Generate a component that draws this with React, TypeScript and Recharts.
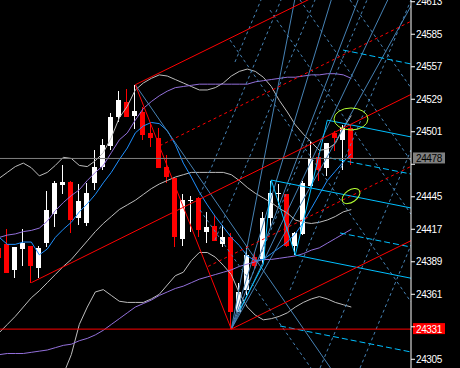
import {
  ComposedChart,
  Bar,
  Line,
  XAxis,
  YAxis,
  ReferenceLine,
  ReferenceDot,
} from 'recharts'

// candles (one per bar, oldest first)
const opens = [24401, 24404, 24382, 24400, 24403, 24384, 24405, 24430, 24455, 24458, 24427, 24422, 24457, 24471, 24489, 24514, 24527, 24515, 24518, 24500, 24496, 24471, 24461, 24409, 24441, 24444, 24415, 24420, 24404, 24410, 24346, 24365, 24393, 24391, 24427, 24447, 24447, 24403, 24413, 24454, 24479, 24470, 24500, 24494, 24504]
const highs = [24404, 24417, 24402, 24417, 24403, 24403, 24450, 24459, 24472, 24459, 24456, 24457, 24485, 24495, 24517, 24536, 24538, 24541, 24522, 24509, 24504, 24481, 24461, 24447, 24446, 24445, 24432, 24429, 24421, 24414, 24371, 24403, 24397, 24432, 24459, 24456, 24447, 24415, 24459, 24492, 24483, 24491, 24502, 24507, 24507]
const lows = [24389, 24379, 24375, 24385, 24371, 24375, 24402, 24419, 24447, 24414, 24421, 24420, 24451, 24468, 24485, 24509, 24514, 24503, 24494, 24488, 24470, 24457, 24402, 24403, 24415, 24410, 24405, 24407, 24402, 24331, 24346, 24360, 24384, 24387, 24419, 24438, 24402, 24395, 24412, 24453, 24459, 24463, 24484, 24468, 24472]
const closes = [24392, 24379, 24402, 24405, 24385, 24401, 24434, 24457, 24458, 24425, 24441, 24448, 24471, 24490, 24514, 24528, 24514, 24519, 24498, 24496, 24470, 24462, 24410, 24442, 24442, 24416, 24419, 24407, 24410, 24346, 24363, 24395, 24385, 24427, 24448, 24448, 24403, 24414, 24457, 24478, 24468, 24491, 24496, 24504, 24478]

// indicator lines
const maFast = [24410, 24404, 24404, 24406, 24406, 24395, 24400, 24410, 24417, 24423, 24432, 24439, 24447, 24457, 24466, 24477, 24487, 24500, 24506, 24509, 24508, 24502, 24490, 24474, 24462, 24449, 24438, 24428, 24419, 24410, 24403, 24394, 24390, 24391, 24396, 24401, 24406, 24413, 24423, 24435, 24447, 24459, 24467, 24475, 24482]
const envUpper = [24410, 24412, 24413, 24415, 24416, 24418, 24424, 24433, 24440, 24446, 24451, 24459, 24466, 24472, 24483, 24494, 24500, 24511, 24521, 24527, 24532, 24536, 24539, 24540, 24541, 24542, 24542, 24542, 24542, 24542, 24542, 24542, 24544, 24545, 24546, 24547, 24548, 24548, 24549, 24550, 24550, 24551, 24551, 24550, 24547]
const envLower = [24309, 24310, 24310, 24310, 24311, 24312, 24313, 24315, 24317, 24318, 24321, 24323, 24326, 24330, 24335, 24340, 24345, 24350, 24353, 24356, 24360, 24363, 24366, 24368, 24371, 24374, 24376, 24378, 24380, 24382, 24385, 24387, 24389, 24391, 24391, 24392, 24393, 24394, 24396, 24399, 24401, 24405, 24409, 24413, 24417]
const bandUpper = [24461, 24466, 24471, 24474, 24470, 24463, 24466, 24472, 24479, 24478, 24472, 24471, 24476, 24483, 24496, 24513, 24523, 24537, 24543, 24547, 24550, 24549, 24546, 24543, 24540, 24537, 24537, 24539, 24543, 24549, 24553, 24555, 24553, 24548, 24540, 24528, 24518, 24507, 24499, 24492, 24485, 24486, 24491, 24504, 24515]
const bandMid = [24328, 24335, 24342, 24350, 24358, 24364, 24371, 24378, 24385, 24391, 24399, 24407, 24415, 24422, 24428, 24434, 24438, 24442, 24447, 24452, 24456, 24459, 24462, 24464, 24466, 24466, 24466, 24466, 24466, 24464, 24459, 24453, 24448, 24444, 24440, 24435, 24431, 24425, 24423, 24422, 24423, 24425, 24428, 24432, 24434]
const bandLower = [null, null, null, null, null, null, null, null, 24292, 24309, 24335, 24350, 24363, 24365, 24360, 24355, 24354, 24354, 24354, 24357, 24361, 24369, 24377, 24380, 24390, 24397, 24397, 24393, 24386, 24378, 24362, 24350, 24343, 24339, 24340, 24342, 24345, 24350, 24354, 24357, 24359, 24357, 24354, 24352, 24350]

const yTicks = [24305, 24333, 24361, 24389, 24417, 24445, 24473, 24501, 24529, 24557, 24585, 24613]
// tick labels that sit under the price tags
const coveredTicks = [24333, 24473]
const bidPrice = 24478
const lowLevel = 24331

// drawn objects: [barFrom, priceFrom, barTo, priceTo]
const pitchforkSolid = [
  [4, 24371, 52, 24535],
  [17, 24541.5, 52, 24660],
  [29, 24331, 52, 24409],
  [17, 24541.5, 29, 24331],
]
const pitchforkDashed = [
  [20.06, 24489, 52, 24598],
  [26.1, 24385, 52, 24473],
]
const fanSolid = [
  [17, 24541.5, 45, 24261.5],
  [29, 24331, 38, 24653],
  [29, 24331, 42, 24626],
  [29, 24331, 46, 24635],
  [29, 24331, 52, 24664.5],
  [29, 24331, 52, 24616],
]
const gridDashed = [
  [29.46, 24561.1, 32.71, 24614.5],
  [25.09, 24446.5, 35.21, 24614.5],
  [26.96, 24407.8, 39.46, 24614.5],
  [31.34, 24373.3, 45.96, 24614.5],
  [36.34, 24364.7, 51.46, 24614.5],
  [40.09, 24297.5, 51.46, 24485.3],
  [45.09, 24297.5, 51.46, 24403.4],
  [28.84, 24580.0, 51.46, 24354.4],
  [33.84, 24605.8, 51.46, 24430.1],
  [25.09, 24433.6, 38.96, 24297.5],
  [37.59, 24614.5, 51.46, 24475.8],
  [43.84, 24614.5, 51.46, 24538.7],
]
const zigzag = [
  [30, 24347, 33, 24387],
  [33, 24387, 34, 24459.4],
  [34, 24459.4, 37, 24394.8],
  [37, 24394.8, 41, 24511],
]
const channelSolid = [
  [34, 24459.4, 52, 24434.6],
  [37, 24394.8, 52, 24374.1],
  [41, 24511, 52, 24495.8],
]
const channelDashed = [
  [41.34, 24478.4, 51.46, 24464.6],
  [42.59, 24413.8, 51.46, 24401.7],
  [35.09, 24333.7, 51.46, 24311.3],
  [42.96, 24571.4, 51.46, 24559.4],
]
const marks = [
  [43.96, 24512, 17, 11, 0],
  [43.96, 24445.6, 10, 6, -35],
]

const rows = opens.map((o, i) => ({
  i,
  open: o,
  high: highs[i],
  low: lows[i],
  close: closes[i],
  maFast: maFast[i],
  envUpper: envUpper[i],
  envLower: envLower[i],
  bandUpper: bandUpper[i],
  bandMid: bandMid[i],
  bandLower: bandLower[i],
}))

function Candle(props: any) {
  const { x, y, width, height, payload } = props
  const { open, close, high, low } = payload
  const k = high - low ? height / (high - low) : 0
  const py = (v: number) => y + (high - v) * k
  const c = Math.round(x + width / 2 - 0.5)
  const color = close >= open ? '#ffffff' : '#ff0000'
  const top = py(Math.max(open, close))
  const bot = py(Math.min(open, close))
  return (
    <g shapeRendering="crispEdges">
      <line x1={c + 0.5} x2={c + 0.5} y1={y} y2={y + height} stroke={color} />
      <rect x={c - 2} y={top} width={5} height={Math.max(1, bot - top)} fill={color} />
    </g>
  )
}

function AxisTick({ x, y, payload }: any) {
  if (coveredTicks.includes(payload.value)) return null
  return (
    <text x={x} y={y} dy="0.355em" fill="#fff" fontSize={10} fontFamily="Liberation Sans" letterSpacing={-0.4}>
      {payload.value}
    </text>
  )
}

function PriceTag({ viewBox, bg, fg, text }: any) {
  const { x, y, width } = viewBox
  const left = x + width + 2
  return (
    <g>
      <rect x={left} y={y - 6} width={32} height={11} fill={bg} />
      <text x={left + 3} y={y + 4} fill={fg} fontSize={10} fontFamily="Liberation Sans" letterSpacing={-0.4}>
        {text}
      </text>
    </g>
  )
}

const segs = (list: number[][], stroke: string, dash?: string, key = '') =>
  list.map((s, n) => (
    <ReferenceLine
      key={key + n}
      segment={[{ x: s[0], y: s[1] }, { x: s[2], y: s[3] }]}
      stroke={stroke}
      strokeDasharray={dash}
      ifOverflow="hidden"
    />
  ))

export default function App() {
  return (
    <div style={{ width: 460, height: 368, background: '#000' }}>
      <style>{'body{margin:0;background:#000}'}</style>
      <ComposedChart width={460} height={368} data={rows} margin={{ top: 0, right: 0, bottom: 0, left: 0 }}>
        <XAxis type="number" dataKey="i" domain={[0.0875, 51.4625]} allowDataOverflow hide />
        <YAxis
          orientation="right"
          width={49}
          domain={[24297.5, 24614.5]}
          allowDataOverflow
          ticks={yTicks}
          interval={0}
          axisLine={{ stroke: '#fff' }}
          tickLine={{ stroke: '#fff' }}
          tickSize={4}
          tickMargin={1}
          tick={<AxisTick />}
        />
        <Bar dataKey={(d: any) => [d.low, d.high]} barSize={5} shape={Candle} isAnimationActive={false} />
        <Line dataKey="bandUpper" stroke="#bdbdbd" dot={false} activeDot={false} isAnimationActive={false} />
        <Line dataKey="bandMid" stroke="#bdbdbd" dot={false} activeDot={false} isAnimationActive={false} />
        <Line dataKey="bandLower" stroke="#bdbdbd" dot={false} activeDot={false} isAnimationActive={false} />
        <Line dataKey="envUpper" stroke="#9370db" dot={false} activeDot={false} isAnimationActive={false} />
        <Line dataKey="envLower" stroke="#9370db" dot={false} activeDot={false} isAnimationActive={false} />
        <Line dataKey="maFast" stroke="#1e90ff" dot={false} activeDot={false} isAnimationActive={false} />
        {segs(gridDashed, '#4682b4', '3 3', 'g')}
        {segs(fanSolid, '#4682b4', undefined, 'f')}
        {segs(channelDashed, '#00bfff', '6 3', 'cd')}
        {segs(channelSolid, '#00bfff', undefined, 'cs')}
        {segs(zigzag, '#00bfff', undefined, 'z')}
        {segs(pitchforkDashed, '#ff0000', '3 3', 'pd')}
        {segs(pitchforkSolid, '#ff0000', undefined, 'ps')}
        <ReferenceLine
          y={bidPrice}
          stroke="#808080"
          label={<PriceTag bg="#808080" fg="#000" text={String(bidPrice)} />}
        />
        <ReferenceLine
          y={lowLevel}
          stroke="#ff0000"
          label={<PriceTag bg="#ff0000" fg="#fff" text={String(lowLevel)} />}
        />
        {marks.map((m, n) => (
          <ReferenceDot
            key={'m' + n}
            x={m[0]}
            y={m[1]}
            r={1}
            ifOverflow="visible"
            shape={(p: any) => (
              <ellipse
                cx={p.cx}
                cy={p.cy}
                rx={m[2]}
                ry={m[3]}
                fill="none"
                stroke="#b4ff32"
                transform={`rotate(${m[4]} ${p.cx} ${p.cy})`}
              />
            )}
          />
        ))}
      </ComposedChart>
    </div>
  )
}
